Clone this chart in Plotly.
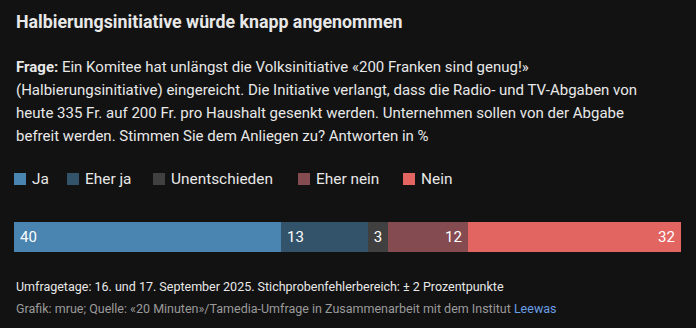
import plotly.graph_objects as go

categories = ["Ja", "Eher ja", "Unentschieden", "Eher nein", "Nein"]
values = [40, 13, 3, 12, 32]
colors = ["#4a84b0", "#33536a", "#404040", "#844b51", "#e26562"]
text_anchor = ["start", "start", "middle", "end", "end"]

title = "Halbierungsinitiative würde knapp angenommen"
question_lines = [
    "<b>Frage:</b> Ein Komitee hat unlängst die Volksinitiative «200 Franken sind genug!»",
    "(Halbierungsinitiative) eingereicht. Die Initiative verlangt, dass die Radio- und TV-Abgaben von",
    "heute 335 Fr. auf 200 Fr. pro Haushalt gesenkt werden. Unternehmen sollen von der Abgabe",
    "befreit werden. Stimmen Sie dem Anliegen zu? Antworten in %",
]
footer1 = "Umfragetage: 16. und 17. September 2025. Stichprobenfehlerbereich: ± 2 Prozentpunkte"
footer2 = "Grafik: mrue; Quelle: «20 Minuten»/Tamedia-Umfrage in Zusammenarbeit mit dem Institut "
footer_link = "Leewas"

# legend layout (pixel x of each swatch)
legend_x = [14, 67, 153, 298, 403]

W, H = 696, 328
ML, MR, MT, MB = 14, 15, 222, 76
FONT = "Roboto, Liberation Sans, sans-serif"
BG = "#121212"
TXT = "#e8e8e8"
PAD = "\u2009"

def py(y):
    return (H - MB - y) / (H - MT - MB)

def px(x):
    return (x - ML) / (W - ML - MR)

fig = go.Figure()
for c, v, col, anc in zip(categories, values, colors, text_anchor):
    if anc == "start":
        label = PAD + str(v)
    elif anc == "end":
        label = str(v) + PAD
    else:
        label = str(v)
    fig.add_trace(go.Bar(
        y=[""], x=[v], name=c, orientation="h",
        marker=dict(color=col, line=dict(width=0)),
        text=[label], textposition="inside", insidetextanchor=anc,
        textfont=dict(color="#ffffff", size=15, family=FONT),
        hoverinfo="name+x", showlegend=False,
    ))

ann = []
shapes = []
ann.append(dict(text=f"<b>{title}</b>", x=px(14), y=py(21), xref="paper", yref="paper",
                xanchor="left", yanchor="middle", showarrow=False,
                font=dict(size=17.8, color=TXT, family=FONT)))
for i, line in enumerate(question_lines):
    ann.append(dict(text=line, x=px(14), y=py(67 + i * 23), xref="paper", yref="paper",
                    xanchor="left", yanchor="middle", showarrow=False,
                    font=dict(size=15, color=TXT, family=FONT)))
for c, col, lx in zip(categories, colors, legend_x):
    shapes.append(dict(type="rect", xref="paper", yref="paper",
                       x0=px(lx), x1=px(lx + 12), y0=py(185), y1=py(173),
                       fillcolor=col, line=dict(width=0)))
    ann.append(dict(text=c, x=px(lx + 16), y=py(179), xref="paper", yref="paper",
                    xanchor="left", yanchor="middle", showarrow=False,
                    font=dict(size=15.4, color=TXT, family=FONT)))
ann.append(dict(text=footer1, x=px(14), y=py(286), xref="paper", yref="paper",
                xanchor="left", yanchor="middle", showarrow=False,
                font=dict(size=12.5, color=TXT, family=FONT)))
ann.append(dict(text=footer2 + f"<span style='color:#6a9fe6'>{footer_link}</span>",
                x=px(14), y=py(308), xref="paper", yref="paper",
                xanchor="left", yanchor="middle", showarrow=False,
                font=dict(size=12.5, color="#9a9a9a", family=FONT)))

fig.update_layout(
    width=W, height=H,
    margin=dict(l=ML, r=MR, t=MT, b=MB),
    paper_bgcolor=BG, plot_bgcolor=BG,
    barmode="stack", bargap=0,
    showlegend=False,
    xaxis=dict(range=[0, sum(values)], visible=False, fixedrange=True),
    yaxis=dict(visible=False, fixedrange=True),
    annotations=ann,
    shapes=shapes,
    uniformtext=dict(mode=False),
)

fig.write_html("out.html")
